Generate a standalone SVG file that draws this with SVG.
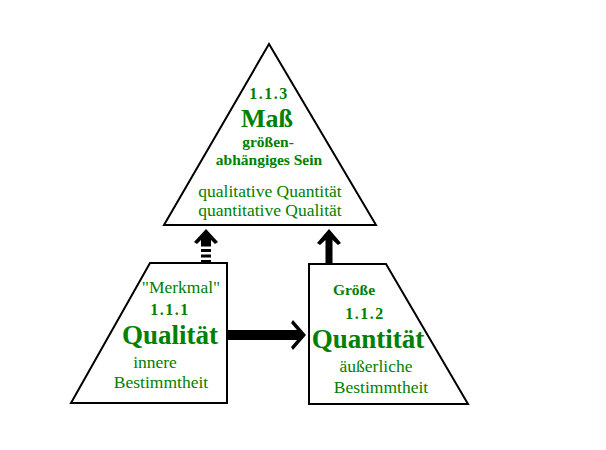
<svg xmlns="http://www.w3.org/2000/svg" width="606" height="450" viewBox="0 0 606 450">
<style>
.shape{fill:#fff;stroke:#000;stroke-width:2;stroke-linejoin:miter}
text{font-family:"Liberation Serif","Times New Roman",serif;fill:#008000}
.b{font-weight:bold}
.m{text-anchor:middle}
.s{font-size:17.5px}
.sb{font-size:15.5px;font-weight:bold}
.num{font-size:16px;font-weight:bold;letter-spacing:1.5px}
.big{font-size:27px;font-weight:bold}
.arr{fill:#000;stroke:none}
</style>
<rect width="606" height="450" fill="#fff"/>
<g id="node-mass">
<polygon class="shape" points="269,44 164,225 376,225"/>
<text class="num m" x="269" y="99">1.1.3</text>
<text class="m b" x="267" y="127" font-size="26">Maß</text>
<text class="sb m" x="268" y="147">größen-</text>
<text class="sb m" x="269" y="165">abhängiges Sein</text>
<text class="s m" x="270" y="197">qualitative Quantität</text>
<text class="s m" x="270" y="216">quantitative Qualität</text>
</g>
<g id="node-qualitaet">
<polygon class="shape" points="150,263 227,263 227,403 71,403"/>
<text class="s m" x="181" y="293">"Merkmal"</text>
<text class="num m" x="170" y="315">1.1.1</text>
<text class="big m" x="170" y="344">Qualität</text>
<text class="s m" x="155" y="368">innere</text>
<text class="s m" x="161" y="388">Bestimmtheit</text>
</g>
<g id="node-quantitaet">
<polygon class="shape" points="309,264 386,264 468,404 309,404"/>
<text class="sb m" x="354" y="295">Größe</text>
<text class="num m" x="365" y="319">1.1.2</text>
<text class="big m" x="368" y="348">Quantität</text>
<text class="s m" x="376" y="372">äußerliche</text>
<text class="s m" x="381" y="393">Bestimmtheit</text>
</g>
<g id="connectors">
<g id="arrow-qual-mass">
<polygon class="arr" points="206,229 218,242 215,244 211,240 211,244 201,244 201,240 197,244 194,242"/>
<rect class="arr" x="201" y="244" width="10" height="2.5"/>
<rect class="arr" x="201" y="249" width="10" height="3"/>
<rect class="arr" x="201" y="254.5" width="10" height="3"/>
<rect class="arr" x="201" y="260" width="10" height="3"/>
</g>
<g id="arrow-quant-mass">
<polygon class="arr" points="329,229 341,243 338,245 332.5,240 332.5,264 325.5,264 325.5,240 320,245 317,243"/>
</g>
<g id="arrow-qual-quant">
<polygon class="arr" points="306,335 293,350 291,347 297,340 227,340 227,330 297,330 291,323 293,320"/>
</g>
</g>
</svg>
